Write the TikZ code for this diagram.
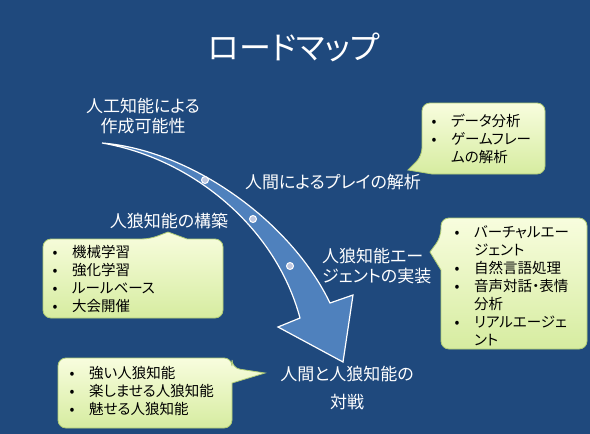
\documentclass[tikz,border=0pt]{standalone}
\usepackage{fontspec}
\setmainfont{Noto Sans CJK JP}[RawFeature=+palt]
\usetikzlibrary{backgrounds}
\definecolor{slidebg}{RGB}{31,73,125}
\definecolor{arrowblue}{RGB}{79,129,189}
\definecolor{notetop}{RGB}{248,253,222}
\definecolor{notebot}{RGB}{214,236,160}
\definecolor{noteedge}{RGB}{176,204,118}
\definecolor{dotfill}{RGB}{192,200,224}
\tikzset{
  ttl/.style={text=white, font=\fontsize{32}{38}\selectfont, inner sep=0pt},
  lbl/.style={text=white, font=\fontsize{17}{20}\selectfont, align=center, inner sep=0pt},
  notetext/.style={text=black, font=\fontsize{14.5}{18}\selectfont, align=left, anchor=north west, inner sep=0pt},
  bubble/.style={draw=noteedge, line width=0.8pt, top color=notetop, bottom color=notebot, rounded corners=8pt},
  road/.style={draw=white, line width=1.2pt, fill=arrowblue, line join=miter},
  waypoint/.style={circle, draw=white, fill=dotfill, line width=1pt, minimum size=7pt, inner sep=0pt},
}
\newcommand{\bul}{\makebox[20pt][l]{\makebox[6pt]{•}}}
\newcommand{\cont}{\hspace*{20pt}}

\begin{document}
\begin{tikzpicture}[x=1pt,y=-1pt]
\fill[slidebg] (0,0) rectangle (590,434);
\useasboundingbox (0,0) rectangle (590,434);
\node[ttl] (title) at (294,47) {ロードマップ};
% road arrow
\draw[road] (102,143) .. controls (190,150) and (290,220) .. (330,303) -- (353,295) -- (343,362) -- (278,327) -- (300,318) .. controls (275,225) and (190,158) .. (102,143) -- cycle;
\node[waypoint] (w1) at (205,180) {};
\node[waypoint] (w2) at (253,219) {};
\node[waypoint] (w3) at (290,266) {};
% labels
\node[lbl] (aiL) at (143,116) {人工知能による\\作成可能性};
\node[lbl] (playL) at (333,182) {人間によるプレイの解析};
\node[lbl] (buildL) at (169,221) {人狼知能の構築};
\node[lbl, align=left, anchor=west] (agentL) at (322,266) {人狼知能エー\\ジェントの実装};
\node[lbl] (vsL) at (347,388) {人間と人狼知能の\\[8pt]対戦};
% bubbles
\draw[bubble] (432,174) -- (545,174) -- (545,103) -- (422,103) -- (422,156) [sharp corners] -- (408,170) -- cycle;
\node[notetext] (dataN) at (431,114) {\bul データ分析\\\bul ゲームフレー\\\cont ムの解析};
\draw[bubble] (441,270) -- (441,349) -- (587,349) -- (587,218) -- (441,218) -- (441,237) [sharp corners] -- (430,252) -- cycle;
\node[notetext] (agentN) at (454,225) {\bul バーチャルエー\\\cont ジェント\\\bul 自然言語処理\\\bul 音声対話・表情\\\cont 分析\\\bul リアルエージェ\\\cont ント};
\draw[bubble] (187,239) -- (223,239) -- (223,318) -- (43,318) -- (43,239) -- (150,239) [sharp corners] -- (168,232) -- cycle;
\node[notetext] (buildN) at (52,245) {\bul 機械学習\\\bul 強化学習\\\bul ルールベース\\\bul 大会開催};
\draw[bubble] (232,383) -- (232,428) -- (58,428) -- (58,358) -- (232,358) -- (232,368) [sharp corners] -- (265,373) -- cycle;
\node[notetext] (vsN) at (69,366) {\bul 強い人狼知能\\\bul 楽しませる人狼知能\\\bul 魅せる人狼知能};
\end{tikzpicture}
\end{document}
